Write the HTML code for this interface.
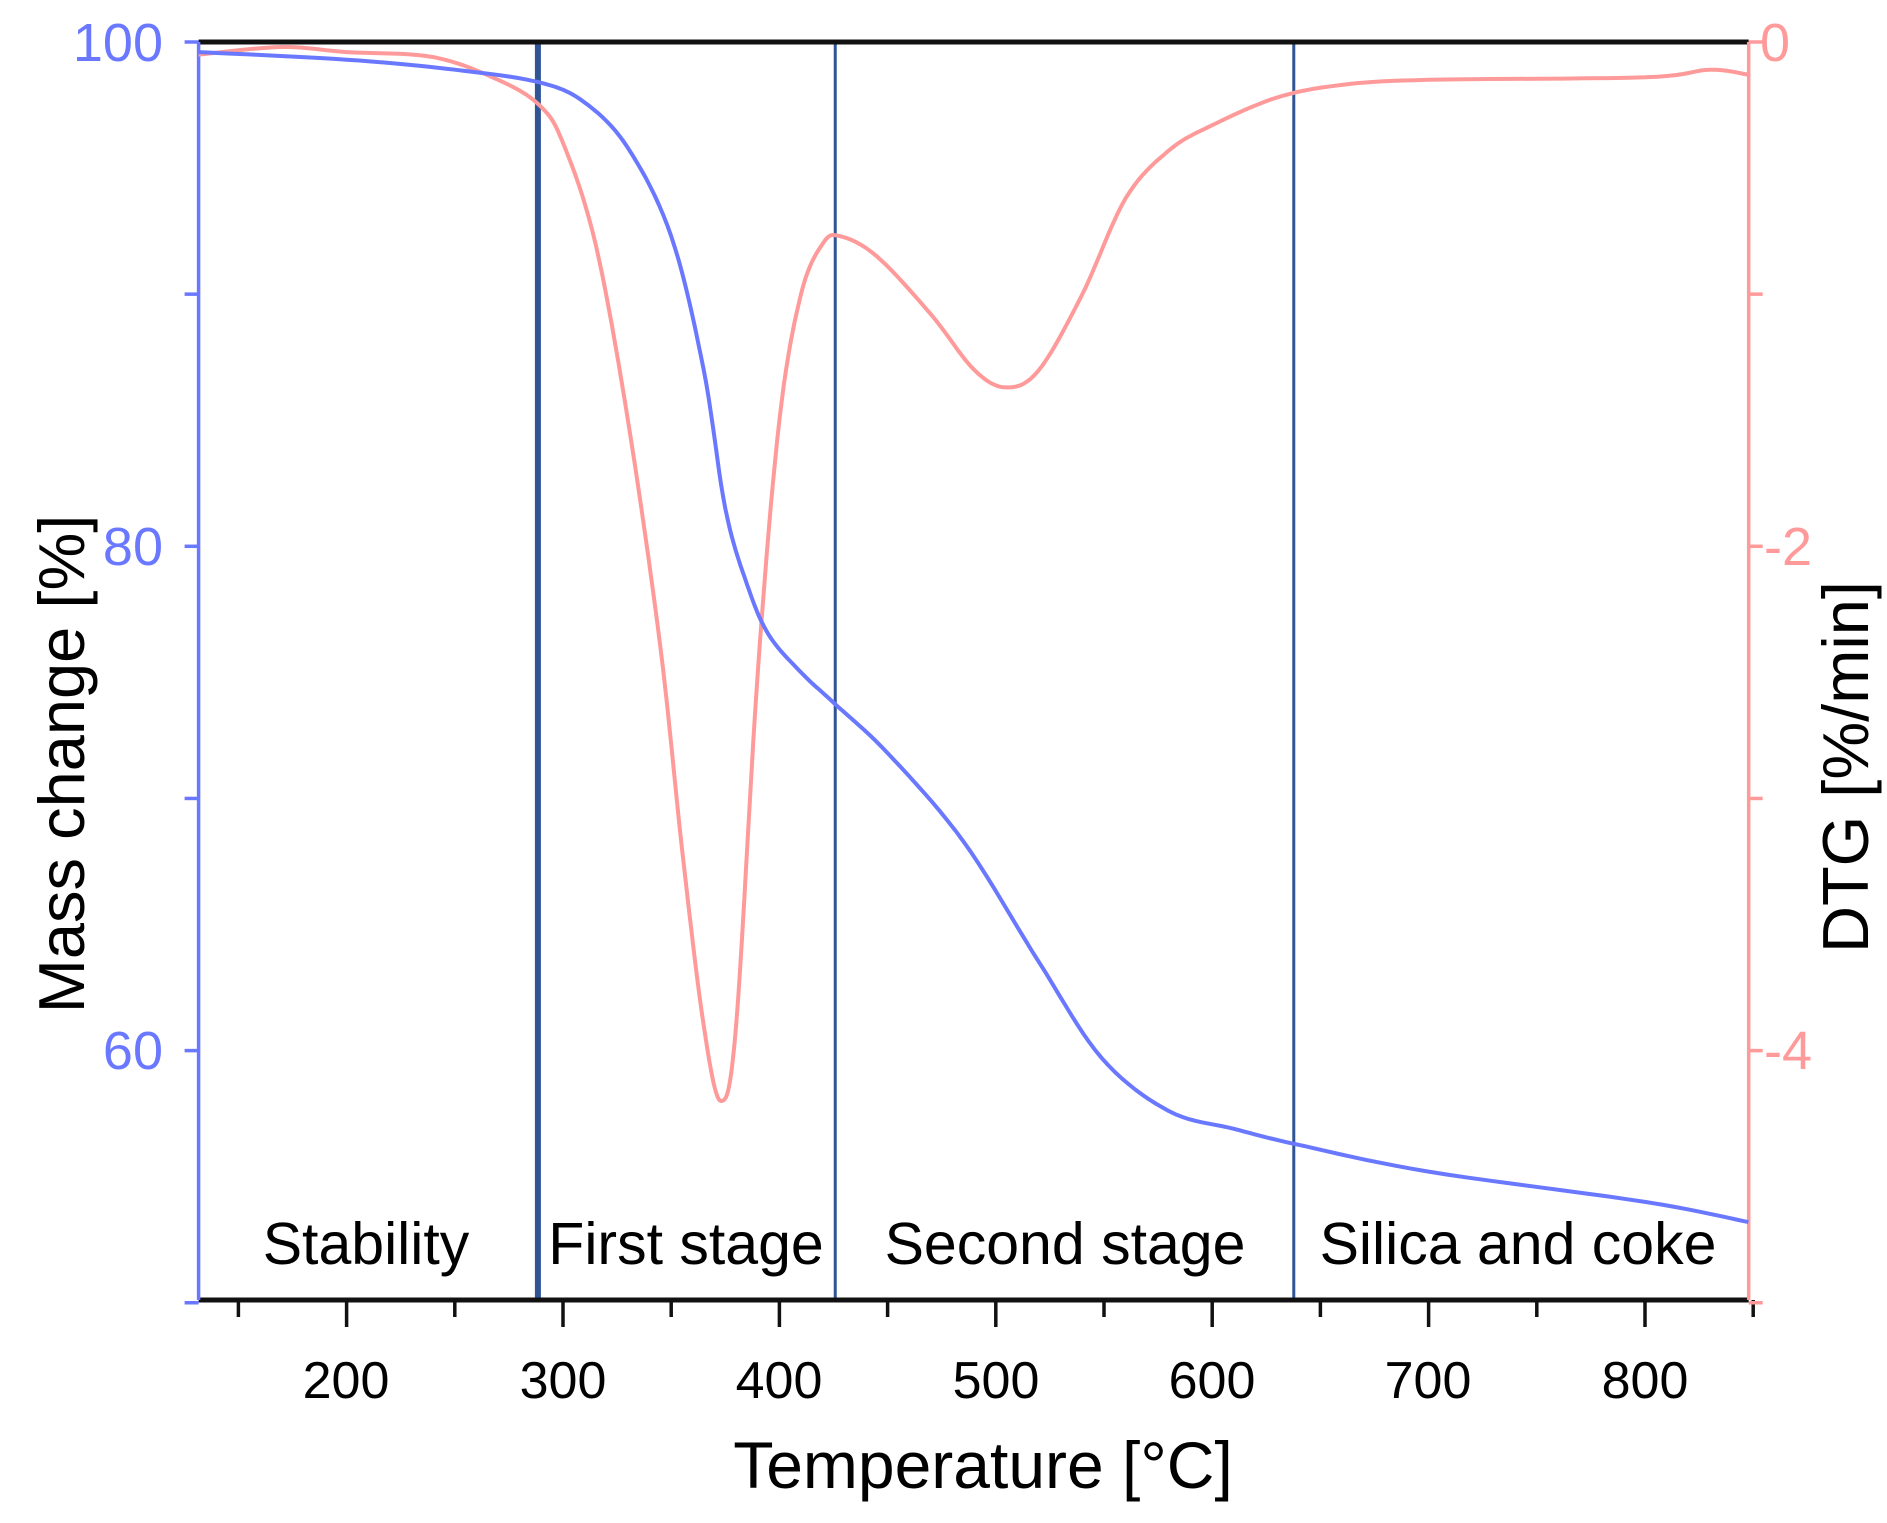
<!DOCTYPE html>
<html><head><meta charset="utf-8"><style>
html,body{margin:0;padding:0;background:#fff}
svg{display:block}
</style></head><body>
<svg id="s" width="1887" height="1523" xmlns="http://www.w3.org/2000/svg" font-family="Liberation Sans, sans-serif">
<g id="g"></g>
<g font-size="52" text-anchor="middle">
<text x="346" y="1398">200</text>
<text x="563" y="1398">300</text>
<text x="779" y="1398">400</text>
<text x="996" y="1398">500</text>
<text x="1212" y="1398">600</text>
<text x="1428" y="1398">700</text>
<text x="1645" y="1398">800</text>
</g>
<text x="983" y="1488" font-size="66" text-anchor="middle">Temperature [°C]</text>
<g font-size="54" text-anchor="end" fill="#6a78ff">
<text x="163" y="61">100</text>
<text x="163" y="565">80</text>
<text x="163" y="1069">60</text>
</g>
<g font-size="54" fill="#ff9a9a">
<text x="1760" y="61">0</text>
<text x="1764" y="565">-2</text>
<text x="1764" y="1069">-4</text>
</g>
<text transform="translate(84,764) rotate(-90)" font-size="65" text-anchor="middle">Mass change [%]</text>
<text transform="translate(1868,767) rotate(-90)" font-size="65" text-anchor="middle">DTG [%/min]</text>
<g font-size="59" text-anchor="middle" font-family="Liberation Sans Narrow, Liberation Sans, sans-serif">
<text x="366" y="1264">Stability</text>
<text x="686" y="1264">First stage</text>
<text x="1065" y="1264">Second stage</text>
<text x="1518" y="1264">Silica and coke</text>
</g>
</svg>
<script>
var L=198.6,R=1748.7,T=42,B=1300;
function X(t){return 346.6+(t-200)*2.164;}
function Ym(m){return 42+(100-m)*25.215;}
function Yd(d){return 42-d*252.15;}
var g=document.getElementById('g'),h='';
function line(x1,y1,x2,y2,c,w){h+='<line x1="'+x1+'" y1="'+y1+'" x2="'+x2+'" y2="'+y2+'" stroke="'+c+'" stroke-width="'+w+'"/>';}
line(X(288.4),T,X(288.4),B,'#2f5597',6);
line(X(425.8),T,X(425.8),B,'#2f5597',3);
line(X(637.7),T,X(637.7),B,'#2f5597',3);
line(L,T,R,T,'#111',5);
line(L,B,R,B,'#111',5);
line(L,T,L,B,'#6a78ff',3.5);
line(R,T,R,B,'#ff9a9a',3.5);
for(var t=150;t<=850;t+=50){var x=X(t);line(x,B,x,B+(t%100==0?27:17),'#111',3.5);}
[100,90,80,70,60,50].forEach(function(m){line(L-14,Ym(m),L,Ym(m),'#6a78ff',3.5);});
[0,-1,-2,-3,-4,-5].forEach(function(d){line(R,Yd(d),R+14,Yd(d),'#ff9a9a',3.5);});
function path(pts,fy,c,w){var s='';pts.forEach(function(p,i){s+=(i?'L':'M')+X(p[0]).toFixed(1)+','+fy(p[1]).toFixed(1);});h+='<path d="'+s+'" fill="none" stroke="'+c+'" stroke-width="'+w+'" stroke-linejoin="round"/>';}
function smooth(pts){
 var out=[];for(var i=0;i<pts.length-1;i++){var p0=pts[Math.max(i-1,0)],p1=pts[i],p2=pts[i+1],p3=pts[Math.min(i+2,pts.length-1)];
 for(var k=0;k<10;k++){var u=k/10,u2=u*u,u3=u2*u;
 var f=function(a,b,c,d){return 0.5*((2*b)+(-a+c)*u+(2*a-5*b+4*c-d)*u2+(-a+3*b-3*c+d)*u3);};
 out.push([f(p0[0],p1[0],p2[0],p3[0]),f(p0[1],p1[1],p2[1],p3[1])]);}}
 out.push(pts[pts.length-1]);return out;}
var mass=[[131.6,99.6],[200,99.3],[250,98.9],[289,98.4],[310,97.6],[330,95.8],[350,92.3],[365,87],[375,81.5],[385,78.5],[395,76.5],[410,75],[425,73.8],[450,71.8],[485,68.3],[520,63.5],[549,59.7],[580,57.6],[610,56.9],[638,56.3],[700,55.2],[800,54],[847.8,53.2]];
var dtg=[[131.6,-0.05],[170,-0.02],[200,-0.04],[240,-0.06],[270,-0.15],[289,-0.25],[300,-0.4],[315,-0.8],[330,-1.5],[345,-2.4],[355,-3.2],[365,-3.9],[373,-4.2],[380,-3.9],[390,-2.5],[400,-1.5],[410,-1.0],[420,-0.8],[428,-0.77],[445,-0.85],[470,-1.08],[490,-1.3],[505,-1.37],[520,-1.3],[540,-1.0],[560,-0.62],[580,-0.43],[600,-0.33],[630,-0.22],[660,-0.17],[700,-0.15],[800,-0.14],[830,-0.11],[847.8,-0.13]];
path(smooth(dtg),Yd,'#ff9a9a',4);
path(smooth(mass),Ym,'#6a78ff',4);
g.innerHTML=h;
</script>
</body></html>
